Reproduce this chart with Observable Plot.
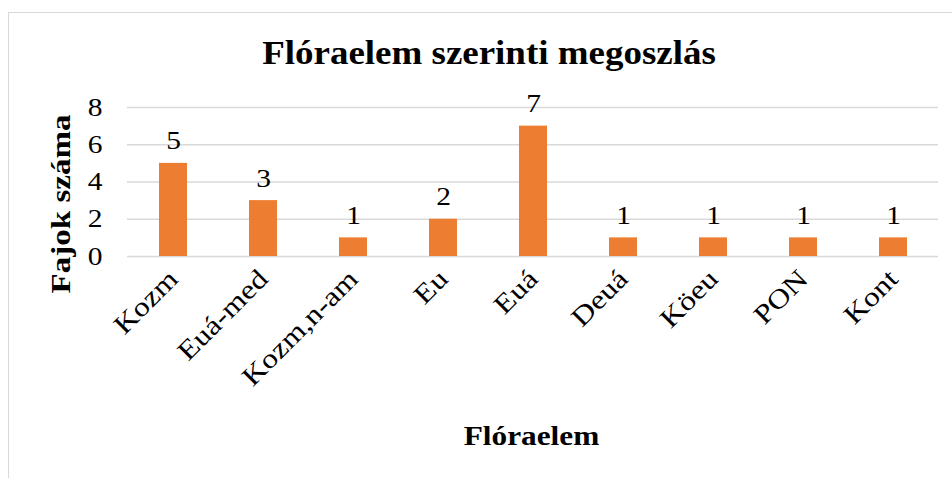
<!DOCTYPE html>
<html><head><meta charset="utf-8">
<script src="https://cdn.jsdelivr.net/npm/d3@7"></script>
<script src="https://cdn.jsdelivr.net/npm/@observablehq/plot@0.6"></script>
<style>
body{margin:0;background:#fff;}
#wrap{position:relative;width:952px;height:478px;overflow:hidden;font-family:"Liberation Serif","Times New Roman",serif;}
#frame{position:absolute;left:8px;top:12px;width:1000px;height:1000px;border-top:1px solid #d9d9d9;border-left:1px solid #d9d9d9;}
#title{position:absolute;left:0;width:978px;top:37px;line-height:1;text-align:center;font-weight:bold;font-size:33px;color:#000;transform:scaleX(1.12);transform-origin:489px 0;}
#xlabel{position:absolute;left:0;width:1063px;top:423px;line-height:1;text-align:center;font-weight:bold;font-size:27px;color:#000;transform:scaleX(1.16);transform-origin:531.5px 0;}
#ylabel{position:absolute;left:60.5px;top:204px;line-height:1;transform:translate(-50%,-50%) rotate(-90deg) scaleX(1.18);white-space:nowrap;font-weight:bold;font-size:28px;color:#000;}
svg{position:absolute;left:0;top:0;}
svg text{font-family:"Liberation Serif","Times New Roman",serif;}
</style></head>
<body><div id="wrap"><div id="frame"></div></div>
<script>
const categories = ["Kozm","Euá-med","Kozm,n-am","Eu","Euá","Deuá","Köeu","PON","Kont"];
const counts = [5,3,1,2,7,1,1,1,1];
const yTicks = [0,2,4,6,8];
const titleText = "Flóraelem szerinti megoszlás";
const xTitle = "Flóraelem";
const yTitle = "Fajok száma";

const data = categories.map((c,i)=>({cat:c, n:counts[i]}));
const chart = Plot.plot({
  width:952, height:478,
  marginLeft:127, marginRight:14, marginTop:107, marginBottom:222,
  style:{fontFamily:"Liberation Serif, Times New Roman, serif", fontSize:"25px", color:"#000", background:"transparent", overflow:"visible"},
  x:{domain:categories, paddingInner:0.69, paddingOuter:0.345, label:null},
  y:{domain:[0,8], label:null},
  marks:[
    Plot.gridY(yTicks,{stroke:"#d9d9d9", strokeOpacity:1, strokeWidth:1.6}),
    Plot.barY(data,{x:"cat", y:"n", fill:"#ED7D31"}),
    Plot.text(data,{x:"cat", y:"n", text:d=>String(d.n), lineAnchor:"bottom", dy:-14, fontSize:25, fill:"#000"}),
    Plot.axisY({ticks:yTicks, tickSize:0, tickPadding:25, fontSize:25, label:null}),
    Plot.axisX({tickSize:0, tickRotate:-45, tickPadding:18, fontSize:27, label:null})
  ]
});
const wrap = document.getElementById("wrap");
wrap.appendChild(chart);
chart.querySelectorAll("text").forEach(t => {
  const len = t.getComputedTextLength();
  if (len > 0) {
    t.setAttribute("textLength", (len * 1.18).toFixed(2));
    t.setAttribute("lengthAdjust", "spacingAndGlyphs");
  }
});
for (const [id,t] of [["title",titleText],["xlabel",xTitle],["ylabel",yTitle]]) {
  const d = document.createElement("div"); d.id=id; d.textContent=t; wrap.appendChild(d);
}
</script></body></html>
